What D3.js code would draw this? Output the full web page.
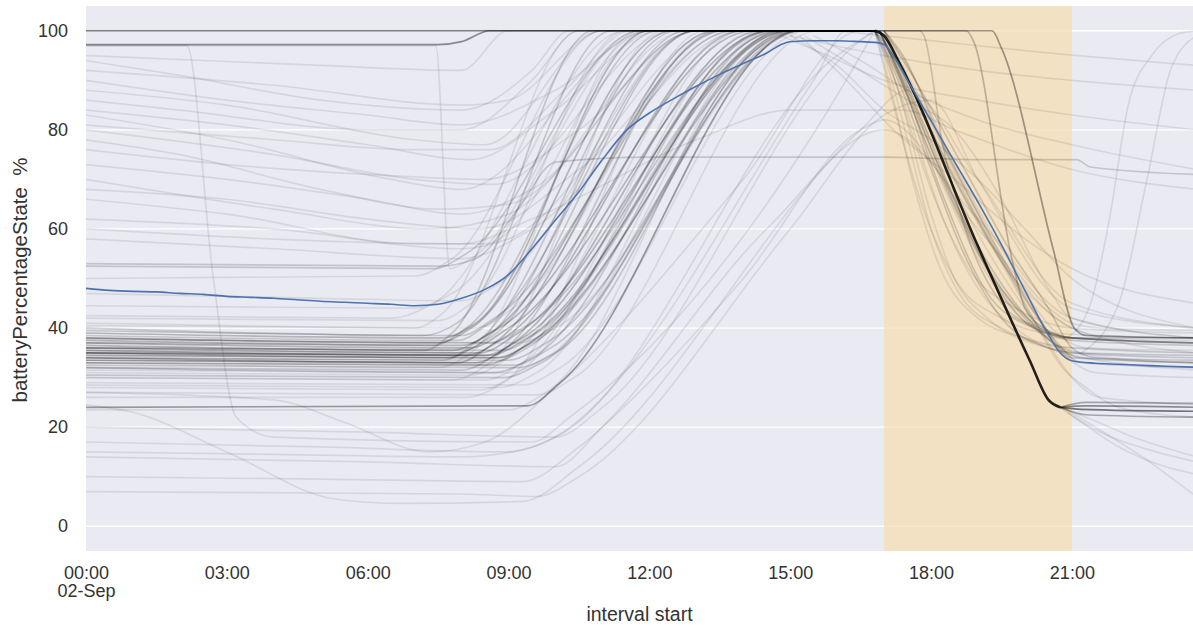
<!DOCTYPE html>
<html><head><meta charset="utf-8">
<script src="https://cdn.jsdelivr.net/npm/d3@7"></script>
<style>
body{margin:0;background:#fff;}
text{font-family:"Liberation Sans",Arial,sans-serif;}
</style></head>
<body><svg id="chart" width="1193" height="627"></svg>
<script>
// ---------------- DATA ----------------
const yTicks = [0, 20, 40, 60, 80, 100];
const xTickHours = [0, 3, 6, 9, 12, 15, 18, 21];
const xTickSecondLine = ["02-Sep", "", "", "", "", "", "", ""];
const peakWindow = [17, 21];
const xLabel = "interval start";
const yLabel = "batteryPercentageState  %";

// mean line (blue)
const meanHours = [0,0.5,1,1.5,2,2.5,3,3.5,4,4.5,5,5.5,6,6.5,7,7.5,8,8.5,9,9.5,10,10.5,11,11.5,12,12.5,13,13.5,14,14.5,14.8,15,15.5,16,16.5,16.85,17,17.25,17.5,18,18.5,19,19.5,20,20.5,20.75,21,21.5,22,22.5,23,23.65];
const meanValues = [48.0,47.6,47.4,47.3,47.0,46.8,46.4,46.2,46.0,45.7,45.4,45.2,45.0,44.8,44.5,44.8,46.0,47.8,50.8,56.0,61.8,67.5,74.0,79.8,83.4,86.2,88.8,91.2,93.4,95.5,97.2,97.8,98.0,98.0,97.8,97.6,97.2,94.2,90.0,81.8,73.6,65.4,56.8,47.6,38.6,35.0,33.4,32.9,32.7,32.5,32.3,32.1];

// individual devices, morning part (n = number of overlapping devices)
const topTraces = [
  {n:8, p:[[0,100],[16.8,100]]},
  {n:6, p:[[0,97.2],[7.5,97.2],[8.0,97.8],[8.6,100],[16.8,100]]}
];
const bandTraces = [
  {n:2, p:[[0,40],[7.2,38.5],[7.9,41],[11.2,100],[16.8,100]]},
  {n:3, p:[[0,39],[7.6,38],[8.3,41],[12.0,100],[16.8,100]]},
  {n:2, p:[[0,38.5],[7.9,37.5],[8.6,41],[13.0,100],[16.8,100]]},
  {n:3, p:[[0,38],[7.5,37],[8.2,40],[12.5,100],[16.8,100]]},
  {n:3, p:[[0,37.5],[8.0,36.5],[8.8,40],[14.2,100],[16.8,100]]},
  {n:3, p:[[0,37],[8.2,36],[9.0,40],[14.6,100],[16.8,100]]},
  {n:3, p:[[0,36.5],[7.8,35.5],[8.6,39],[13.6,100],[16.8,100]]},
  {n:3, p:[[0,36],[8.4,35],[9.2,39],[14.8,100],[16.8,100]]},
  {n:2, p:[[0,36],[7.2,35.5],[7.8,39],[10.8,100],[16.8,100]]},
  {n:3, p:[[0,35.5],[8.6,34.5],[9.4,38],[15.0,100],[16.8,100]]},
  {n:3, p:[[0,35],[8.1,34.5],[8.9,38],[14.0,100],[16.8,100]]},
  {n:3, p:[[0,35],[8.8,34],[9.6,38],[15.2,100],[16.8,100]]},
  {n:2, p:[[0,34.5],[7.7,34],[8.4,37],[12.8,100],[16.8,100]]},
  {n:3, p:[[0,34],[8.3,33],[9.1,37],[14.4,100],[16.8,100]]},
  {n:2, p:[[0,34],[9.0,33.5],[9.8,37],[15.3,100],[16.8,100]]},
  {n:3, p:[[0,33.5],[7.9,33],[8.7,37],[13.4,100],[16.8,100]]},
  {n:2, p:[[0,33],[8.5,32.5],[9.3,36],[14.9,100],[16.8,100]]},
  {n:1, p:[[0,33],[7.5,32],[8.2,35],[11.8,100],[16.8,100]]},
  {n:2, p:[[0,32.5],[9.2,32],[10.0,35],[15.0,100],[16.8,100]]},
  {n:2, p:[[0,32],[8.7,31],[9.5,34],[14.7,100],[16.8,100]]},
  {n:1, p:[[0,31],[8.2,30.5],[9.0,34],[13.9,100],[16.8,100]]},
  {n:2, p:[[0,30.5],[8.9,30],[9.7,33],[15.1,100],[16.8,100]]},
  {n:1, p:[[0,30],[7.8,29.5],[8.6,33],[12.3,100],[16.8,100]]},
  {n:1, p:[[0,29],[9.3,28.5],[10.1,32],[15.4,100],[16.8,100]]},
  {n:1, p:[[0,28],[8.4,27.5],[9.2,31],[14.3,100],[16.8,100]]},
  {n:1, p:[[0,27],[9.6,26.5],[10.4,30],[15.6,100],[16.8,100]]},
  {n:1, p:[[0,26],[8.1,26],[8.9,29],[13.2,100],[16.8,100]]},
  {n:1, p:[[0,40.5],[7.0,40],[7.6,43],[10.5,100],[16.8,100]]},
  {n:1, p:[[0,41],[8.3,40],[9.1,44],[13.5,100],[16.8,100]]},
  {n:1, p:[[0,42],[7.5,41.5],[8.2,45],[11.5,100],[16.8,100]]},
  {n:2, p:[[0,39.5],[8.0,38.5],[8.7,42],[13.8,100],[16.8,100]]},
  {n:2, p:[[0,38],[8.6,37],[9.3,40],[15.0,100],[16.8,100]]},
  {n:2, p:[[0,37],[7.4,36.5],[8.1,40],[12.2,100],[16.8,100]]},
  {n:2, p:[[0,36],[8.9,35.5],[9.6,39],[14.9,100],[16.8,100]]},
  {n:2, p:[[0,35.5],[7.9,35],[8.6,38],[13.0,100],[16.8,100]]},
  {n:3, p:[[0,35],[8.5,34.5],[9.3,38],[14.6,100],[16.8,100]]},
  {n:2, p:[[0,34.5],[8.7,34],[9.5,37],[15.1,100],[16.8,100]]},
  {n:2, p:[[0,34],[7.6,33.5],[8.3,37],[12.6,100],[16.8,100]]},
  {n:2, p:[[0,33.5],[8.6,33],[9.4,36],[14.5,100],[16.8,100]]},
  {n:2, p:[[0,33],[9.1,32.5],[9.9,36],[15.2,100],[16.8,100]]},
  {n:2, p:[[0,32],[8.0,31.5],[8.8,35],[13.5,100],[16.8,100]]},
  {n:1, p:[[0,31.5],[9.0,31],[9.8,34],[14.8,100],[16.8,100]]},
  {n:1, p:[[0,30],[8.5,29.5],[9.3,33],[14.0,100],[16.8,100]]},
  {n:1, p:[[0,28.5],[8.8,28],[9.6,31],[14.6,100],[16.8,100]]},
  {n:1, p:[[0,37.8],[9.2,37],[10,40],[15.3,100],[16.8,100]]},
  {n:5, p:[[0,24],[9.4,24.3],[10.1,29],[15.2,100],[16.8,100]]},
  {n:1, p:[[0,23.5],[9.0,23.5],[9.8,27],[14.8,100],[16.8,100]]}
];
const otherTraces = [
  {n:2, p:[[0,52.5],[7.4,52],[8.1,55],[11.8,100],[16.8,100]]},
  {n:1, p:[[0,50],[7.0,50.5],[7.8,54],[11.0,100],[16.8,100]]},
  {n:1, p:[[0,44.5],[7.0,44],[7.8,47],[12.0,100],[16.8,100]]},
  {n:1, p:[[0,42.5],[6.5,42],[7.4,45],[11.5,100],[16.8,100]]},
  {n:1, p:[[0,47],[5,46],[8.0,45.5],[8.8,49],[13.0,100],[16.8,100]]},
  {n:1, p:[[0,92],[4,89],[8,85],[9,86],[11,100],[16.8,100]]},
  {n:1, p:[[0,88],[3,85],[7,78],[8.5,77],[11,100],[16.8,100]]},
  {n:1, p:[[0,83],[3,78],[6.5,70],[8,68],[12,100],[16.8,100]]},
  {n:1, p:[[0,80],[4,75],[7,70],[8.7,69],[12.5,100],[16.8,100]]},
  {n:1, p:[[0,78],[2,75],[5,68],[7.5,64],[9,65],[13,100],[16.8,100]]},
  {n:1, p:[[0,73],[3,70],[6,66],[8,63],[9.5,68],[13,100],[16.8,100]]},
  {n:1, p:[[0,70],[4,64],[7.3,60],[9,63],[12.8,100],[16.8,100]]},
  {n:1, p:[[0,66],[3,63],[7,57],[8.5,57],[12,100],[16.8,100]]},
  {n:1, p:[[0,62],[4,60],[8,56],[9,58],[13.5,100],[16.8,100]]},
  {n:1, p:[[0,58],[4,56],[8,54],[9.5,60],[14,100],[16.8,100]]},
  {n:1, p:[[0,95],[5,93],[8,92],[9,100],[16.8,100]]},
  {n:1, p:[[0,86],[2,84],[6,80],[8,80],[9.5,90],[10.5,100],[16.8,100]]},
  {n:1, p:[[0,90],[3,86],[6,83],[8,81],[10,88],[12,100],[16.8,100]]},
  {n:1, p:[[0,76],[3,73],[6,71],[8.5,70],[10.5,80],[13,100],[16.8,100]]},
  {n:1, p:[[0,94],[2,91],[5,86],[8,84],[9.5,92],[10.3,100],[16.8,100]]},
  {n:1, p:[[0,84],[3,81],[6,77],[8.2,74],[10,84],[12.2,100],[16.8,100]]},
  {n:1, p:[[0,68],[3,66],[6,62],[8.4,60],[10.5,72],[13.8,100],[16.8,100]]},
  {n:1, p:[[0,81],[4,78],[7,76],[8.6,76],[10.2,88],[11.6,100],[16.8,100]]},
  {n:1, p:[[0,97],[2.15,97],[2.7,51],[3.2,22],[4,18],[9.5,17],[10.3,22],[16.5,95],[16.8,100]]},
  {n:1, p:[[0,97],[7.45,97],[7.75,52],[8.2,54],[11.8,100],[16.8,100]]},
  {n:2, p:[[0,53],[7.5,52.5],[8.3,54],[9.2,64],[10,73.5],[12,74.5],[17,74.5],[19,74],[21.1,74],[21.4,72.5],[23.65,71]]},
  {n:1, p:[[0,60],[8,57],[9.5,62],[13,78],[15,84],[17.4,84],[18.5,80],[21,72],[23.65,68]]},
  {n:1, p:[[0,24.5],[1,23],[3,15],[5.3,5.5],[6.7,4.6],[9.3,5],[10.5,12],[16.5,80],[17.5,88],[19,70],[21,45],[23.65,40]]},
  {n:1, p:[[0,15],[4,14.5],[8,14],[9.5,16],[15.5,90],[16.2,100],[16.8,100]]},
  {n:1, p:[[0,10],[5,9.5],[9.3,9],[10.5,16],[14.5,60],[17,80],[19,62],[21,42],[23.65,38]]},
  {n:1, p:[[0,14],[6,13],[10,12],[11,20],[14,50],[16.5,80],[17,82],[19,60],[21,40],[23.65,35]]},
  {n:1, p:[[0,27],[4,25.5],[5.5,21],[7.3,15],[8.5,17],[10,28],[14,70],[16.5,100],[16.8,100]]},
  {n:1, p:[[0,7],[8,6.5],[9.6,6],[10.5,10],[15,60],[17,83],[18,86],[19,70],[21,44],[23.65,40]]},
  {n:1, p:[[0,17],[5,16],[9,15],[10,18],[16,95],[16.8,100]]},
  {n:1, p:[[0,20],[6,19],[10,18],[11,24],[16.5,98],[16.8,100]]},
  {n:1, p:[[15,99],[16,93],[17,84],[18,78],[19,70],[20,60],[21,50],[23.65,40]]},
  {n:1, p:[[15.2,99],[16.2,90],[17.2,80],[18.5,70],[20,58],[21,52],[23.65,45]]},
  {n:1, p:[[15.5,99],[16.5,94],[17.5,88],[19,82],[21,77],[23.65,72]]},
  {n:1, p:[[14.8,99],[15.8,95],[17,90],[19,86],[21,83],[23.65,80]]},
  {n:1, p:[[15.3,99],[16.5,92],[17.5,86],[18.5,80],[19.5,66],[20.5,48],[21,42],[23.65,38]]},
  {n:1, p:[[15,99],[17,95],[19,92],[21,90],[23.65,88]]},
  {n:1, p:[[16,100],[18,98],[20,96],[23.65,93]]}
];

// evening part: discharge after unplugging
const eveningTraces = [
  {n:2, p:[[16.9,100],[17.3,92],[18.2,68],[19.2,47],[20.2,40],[21,38],[23.65,37]]},
  {n:2, p:[[16.9,100],[17.5,88],[18.5,65],[19.5,48],[20.5,39],[21,37.5],[23.65,36.5]]},
  {n:2, p:[[16.8,100],[17.2,93],[18,75],[19,55],[20,42],[20.8,36],[21.2,35],[23.65,34.5]]},
  {n:2, p:[[16.9,100],[17.6,85],[18.8,60],[19.8,45],[20.6,37],[21.2,34],[23.65,33.5]]},
  {n:2, p:[[17,100],[17.4,95],[18.3,76],[19.3,58],[20.3,42],[21,34],[23.65,33]]},
  {n:1, p:[[17,100],[18,80],[19,62],[20,47],[20.8,38],[21.3,36],[23.65,35]]},
  {n:2, p:[[16.8,100],[17.3,90],[18,72],[18.7,55],[19.5,42],[20.5,36],[21,35],[23.65,34]]},
  {n:1, p:[[16.9,100],[17.4,89],[18.2,70],[19,54],[19.8,43],[20.7,38],[23.65,37.5]]},
  {n:2, p:[[16.8,100],[17.2,95],[17.8,82],[18.5,66],[19.3,50],[20.2,40],[21,38],[23.65,38]]},
  {n:1, p:[[16.9,100],[17.6,87],[18.6,68],[19.6,52],[20.4,44],[21,40],[21.5,38.5],[23.65,38]]},
  {n:1, p:[[17,100],[17.5,93],[18.5,73],[19.5,56],[20.4,45],[21,41],[21.6,40],[23.65,39.5]]},
  {n:1, p:[[16.8,100],[17.3,88],[18,63],[18.5,50],[19.2,42],[20.5,36],[21,35],[23.65,33]]},
  {n:1, p:[[16.8,100],[17.4,86],[18.3,61],[19,48],[19.8,40],[20.8,35],[23.65,31.5]]},
  {n:1, p:[[16.9,100],[17.8,82],[19,59],[20,44],[20.9,34],[21.5,31],[23.65,30]]},
  {n:2, p:[[17,100],[17.6,91],[18.6,74],[19.6,57],[20.5,44],[21,36],[21.5,34],[23.65,33]]},
  {n:2, p:[[16.8,100],[17.5,90],[18.4,72],[19.6,52],[20.6,38],[21.2,33],[23.65,32]]},
  {n:1, p:[[16.8,100],[17.1,90],[17.6,70],[18.2,52],[19,42],[20,38],[21,36],[23.65,35]]},
  {n:1, p:[[16.8,100],[17.2,85],[17.8,65],[18.5,50],[19.5,42],[20.5,39],[23.65,38]]},
  {n:1, p:[[16.9,100],[17.3,88],[18,68],[18.8,52],[19.8,44],[21,40],[23.65,39]]},
  {n:1, p:[[16.8,100],[17.1,92],[17.5,78],[18,60],[18.6,47],[19.5,40],[21,36],[23.65,35.5]]},
  {n:1, p:[[17,100],[18,82],[19,63],[20,45],[20.8,32],[21.3,28],[22,24],[23.65,22]]},
  {n:1, p:[[16.9,100],[17.8,85],[19,62],[20.3,40],[21,30],[21.6,26],[23.65,24.5]]},
  {n:2, p:[[16.8,100],[17.75,100],[17.85,99],[18.25,77],[18.8,58],[19.5,45],[20.3,40],[21,38],[23.65,37]]},
  {n:3, p:[[16.8,100],[18.75,100],[18.9,98],[19.7,55],[20.0,44],[20.4,40],[21,38],[23.65,37]]},
  {n:5, p:[[16.8,100],[19.3,100],[19.5,96.5],[20.6,56],[21.05,40],[21.3,38.5],[23.65,38]]},
  {n:1, p:[[20.9,38],[21.4,45],[21.8,62],[22.2,85],[22.7,95],[23.3,99.5],[23.65,100]]},
  {n:1, p:[[21.2,35],[22.0,45],[22.6,70],[23.1,92],[23.65,99]]}
];
const blackDrop = {n:22, p:[[16.8,100],[17.0,99],[17.3,94],[19.0,56.5],[20.1,33.5],[20.5,25.5],[20.75,24]]};
const blackTails = [
  {n:8, p:[[20.75,24],[21.2,23.6],[23.65,23.2]]},
  {n:6, p:[[20.75,24],[21.3,24.3],[23.65,24]]},
  {n:4, p:[[20.75,24],[21.3,25],[23.65,24.8]]},
  {n:4, p:[[20.75,24],[21.3,22.5],[23.65,22]]},
  {n:1, p:[[20.6,25],[21.2,21],[22,16],[23,12],[23.65,10.5]]},
  {n:1, p:[[20.8,24],[21.5,20],[22.5,14],[23.65,6]]},
  {n:1, p:[[20.7,24],[21.3,22],[22.3,18],[23.65,14]]},
  {n:1, p:[[20.9,23],[21.6,19],[22.8,15],[23.65,13]]}
];

// ---------------- DRAWING ----------------
const plot = {left: 86, right: 1193, top: 6, bottom: 551};
const baseDay = new Date(2020, 8, 2, 0, 0, 0);
const toDate = h => new Date(baseDay.getTime() + h * 3600e3);

const x = d3.scaleTime().domain([toDate(0), toDate(23.58)]).range([plot.left, plot.right]);
const y = d3.scaleLinear().domain([-5, 105]).range([plot.bottom, plot.top]);

const svg = d3.select("#chart");
svg.append("defs").append("clipPath").attr("id", "clip")
  .append("rect").attr("x", plot.left).attr("y", plot.top)
  .attr("width", plot.right - plot.left).attr("height", plot.bottom - plot.top);

svg.append("rect").attr("x", plot.left).attr("y", plot.top)
  .attr("width", plot.right - plot.left).attr("height", plot.bottom - plot.top)
  .attr("fill", "#EAEAF2");

svg.append("g").selectAll("line").data(yTicks).join("line")
  .attr("x1", plot.left).attr("x2", plot.right)
  .attr("y1", d => y(d)).attr("y2", d => y(d))
  .attr("stroke", "#fff").attr("stroke-width", 1.3);

svg.append("rect")
  .attr("x", x(toDate(peakWindow[0]))).attr("y", plot.top)
  .attr("width", x(toDate(peakWindow[1])) - x(toDate(peakWindow[0])))
  .attr("height", plot.bottom - plot.top)
  .attr("fill", "#F5DEB3").attr("opacity", 0.75);

const g = svg.append("g").attr("clip-path", "url(#clip)");
const line = d3.line().x(d => x(toDate(d[0]))).y(d => y(d[1])).curve(d3.curveMonotoneX);
const alpha = 0.085;
const allTraces = [...otherTraces, ...bandTraces, ...topTraces, ...eveningTraces, ...blackTails];
g.selectAll("path.trace").data(allTraces).join("path")
  .attr("class", "trace")
  .attr("d", d => line(d.p))
  .attr("fill", "none")
  .attr("stroke", "#000")
  .attr("stroke-width", 1.7)
  .attr("stroke-linejoin", "round")
  .attr("stroke-opacity", d => 1 - Math.pow(1 - alpha, d.n));
g.append("path").attr("d", line(blackDrop.p))
  .attr("fill", "none").attr("stroke", "#000").attr("stroke-width", 2.6)
  .attr("stroke-linejoin", "round")
  .attr("stroke-opacity", 1 - Math.pow(1 - alpha, blackDrop.n));

const meanData = meanHours.map((h, i) => [h, meanValues[i]]);
g.append("path").attr("d", line(meanData))
  .attr("fill", "none").attr("stroke", "#4C72B0").attr("stroke-width", 1.6);

const font = '"Liberation Sans", Arial, sans-serif';
const yAxis = svg.append("g").attr("transform", `translate(${plot.left},0)`)
  .call(d3.axisLeft(y).tickValues(yTicks).tickSize(0).tickPadding(18));
yAxis.select(".domain").remove();
yAxis.selectAll("text").attr("font-size", 18).attr("fill", "#333").attr("font-family", font);

const xAxis = svg.append("g").attr("transform", `translate(0,${plot.bottom})`)
  .call(d3.axisBottom(x).tickValues(xTickHours.map(toDate)).tickSize(0).tickPadding(15)
        .tickFormat(d3.timeFormat("%H:%M")));
xAxis.select(".domain").remove();
xAxis.selectAll("text").attr("font-size", 18).attr("fill", "#333").attr("font-family", font);
xAxis.selectAll(".tick").each(function(d, i) {
  if (xTickSecondLine[i]) {
    d3.select(this).append("text").attr("fill", "#333").attr("font-size", 18)
      .attr("font-family", font)
      .attr("y", 15).attr("dy", "1.71em").attr("text-anchor", "middle")
      .text(xTickSecondLine[i]);
  }
});

svg.append("text").attr("x", (plot.left + plot.right) / 2).attr("y", 621)
  .attr("text-anchor", "middle").attr("font-size", 19.5).attr("fill", "#333").text(xLabel);
svg.append("text").attr("transform", `translate(27,280) rotate(-90)`)
  .attr("text-anchor", "middle").attr("font-size", 20.5).attr("fill", "#333")
  .style("white-space", "pre").text(yLabel);
</script>
</body></html>
